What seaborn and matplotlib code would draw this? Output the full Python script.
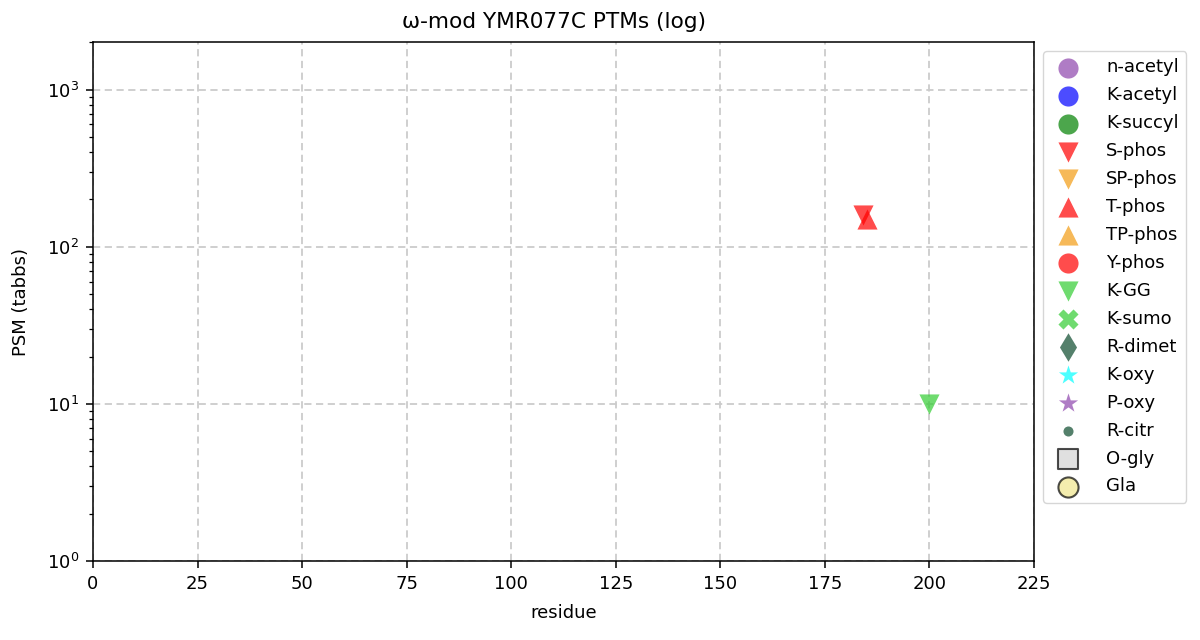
import matplotlib
matplotlib.use('Agg')
import matplotlib.pyplot as plt
import seaborn as sns

plt.rcParams['font.family'] = ['DejaVu Sans']
plt.rcParams['font.size'] = 13

# modification types, in legend order
mods = ['n-acetyl', 'K-acetyl', 'K-succyl', 'S-phos', 'SP-phos', 'T-phos', 'TP-phos',
        'Y-phos', 'K-GG', 'K-sumo', 'R-dimet', 'K-oxy', 'P-oxy', 'R-citr', 'O-gly', 'Gla']
markers = ['o', 'o', 'o', 'v', 'v', '^', '^', 'o', 'v', 'X', 'd', '*', '*', '.', 's', 'o']
colors = ['#8e44ad', 'blue', 'green', 'red', '#f39c12', 'red', '#f39c12', 'red',
          'limegreen', 'limegreen', '#0c4a2d', 'cyan', '#8e44ad', '#0c4a2d', 'lightgray', 'khaki']
edges = [None] * 14 + ['black', 'black']

# observed sites: residue position and PSM count per modification
residues = {'S-phos': [184], 'T-phos': [185], 'K-GG': [200]}
psms = {'S-phos': [160], 'T-phos': [150], 'K-GG': [10]}

fig, ax = plt.subplots(figsize=(12, 6.4), dpi=100)
fig.subplots_adjust(left=0.0775, right=0.8617, top=0.934, bottom=0.1234)

for name, mk, col, ec in zip(mods, markers, colors, edges):
    kw = dict(marker=mk, color=col, s=210, alpha=0.7, label=name)
    if ec is not None:
        kw['edgecolor'] = ec
        kw['linewidth'] = 1.5
    else:
        kw['linewidth'] = 0
    if name in residues:
        sns.scatterplot(x=residues[name], y=psms[name], ax=ax, **kw)
    else:
        ax.scatter([], [], **kw)

ax.set_yscale('log')
ax.set_xlim(0, 225)
ax.set_ylim(1, 2000)
ax.set_xticks(range(0, 226, 25))
ax.tick_params(which='major', length=5, width=1.1, pad=5)
ax.tick_params(which='minor', length=3, width=0.9)
for sp in ax.spines.values():
    sp.set_linewidth(1.1)
ax.grid(True, which='major', linestyle=(0, (4, 2.5)), color='#cccccc', linewidth=1.3)
ax.set_axisbelow(True)
ax.set_title('ω-mod YMR077C PTMs (log)', fontsize=15.6, pad=10, x=0.49)
ax.set_xlabel('residue', labelpad=8)
ax.set_ylabel('PSM (tabbs)', labelpad=12)
ax.legend(loc='upper left', bbox_to_anchor=(1.0, 1.0), fontsize=13, frameon=True,
          labelspacing=0.55, handletextpad=1.1)

plt.savefig('out.png', dpi=100)
